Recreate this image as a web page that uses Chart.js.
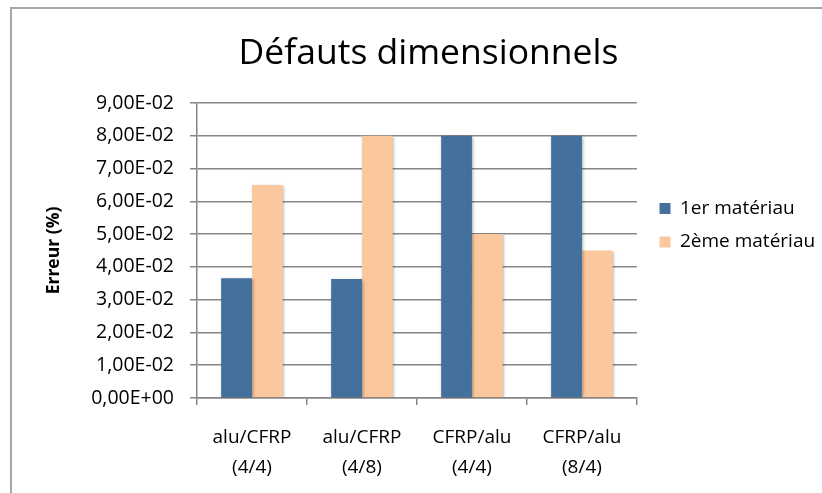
<!DOCTYPE html>
<html>
<head>
<meta charset="utf-8">
<script src="https://cdn.jsdelivr.net/npm/chart.js@4/dist/chart.umd.min.js"></script>
<style>
html,body{margin:0;padding:0;background:#fff;}
#wrap{width:822px;height:493px;position:relative;}
</style>
</head>
<body>
<div id="wrap"><canvas id="c" width="822" height="493"></canvas></div>
<script>
const categories = [["alu/CFRP","(4/4)"],["alu/CFRP","(4/8)"],["CFRP/alu","(4/4)"],["CFRP/alu","(8/4)"]];
const seriesNames = ["1er matériau","2ème matériau"];
const firstMaterial = [0.0365, 0.0363, 0.08, 0.08];
const secondMaterial = [0.065, 0.08, 0.05, 0.045];
const yMin = 0, yMax = 0.09, yStep = 0.01;
const chartTitle = "Défauts dimensionnels";
const yTitle = "Erreur (%)";

const FONT = "'Open Sans', sans-serif";

function sci(v){
  const s = Number(v).toExponential(2);
  let [m,e] = s.split('e');
  let n = parseInt(e,10);
  const sign = n < 0 ? '-' : '+';
  n = Math.abs(n);
  return m.replace('.',',') + 'E' + sign + (n<10?'0':'') + n;
}

const frame = {
  id:'frame',
  beforeDraw(chart){
    const ctx = chart.ctx;
    ctx.save();
    ctx.fillStyle = '#fff';
    ctx.fillRect(0,0,chart.width,chart.height);
    ctx.strokeStyle = '#a6a6a6';
    ctx.lineWidth = 2;
    ctx.beginPath();
    ctx.moveTo(11, chart.height);
    ctx.lineTo(11, 8);
    ctx.lineTo(chart.width, 8);
    ctx.stroke();
    ctx.restore();
    const lg = chart.legend;
    if (lg) {
      const h = lg.bottom - lg.top;
      const w = lg.right - lg.left;
      lg.top = 184.5; lg.bottom = 184.5 + h;
      lg.left = 645; lg.right = 645 + w;
    }
  },
  beforeDatasetsDraw(chart){
    const ctx = chart.ctx;
    ctx.save();
    ctx.shadowColor = 'rgba(0,0,0,0.35)';
    ctx.shadowBlur = 3;
    ctx.shadowOffsetX = 1;
    ctx.shadowOffsetY = 1;
  },
  afterDatasetsDraw(chart){
    chart.ctx.restore();
  }
};

new Chart(document.getElementById('c'), {
  type:'bar',
  data:{
    labels: categories,
    datasets:[
      {label: seriesNames[0], data: firstMaterial, backgroundColor:'#44709e', borderWidth:0},
      {label: seriesNames[1], data: secondMaterial, backgroundColor:'#fbc89e', borderWidth:0}
    ]
  },
  options:{
    responsive:false,
    animation:false,
    layout:{padding:{left:40, right:5, top:0, bottom:0}},
    datasets:{bar:{categoryPercentage:0.56, barPercentage:1}},
    plugins:{
      title:{display:true, text:chartTitle, color:'#000', font:{family:FONT, size:35.5, weight:'normal', lineHeight:1.2}, padding:{top:33, bottom:27.4}},
      legend:{position:'right', align:'start',
        labels:{boxWidth:11, boxHeight:11, padding:14.5, color:'#000', font:{family:FONT, size:19}}},
      tooltip:{enabled:false}
    },
    scales:{
      x:{
        afterFit(s){ s.height = 95; },
        grid:{display:true, drawOnChartArea:false, offset:true, tickLength:7, color:'#868686', lineWidth:1.5},
        border:{display:true, color:'#868686', width:1.5},
        ticks:{color:'#000', font:{family:FONT, size:19, lineHeight:1.55}, padding:18, maxRotation:0}
      },
      y:{
        min:yMin, max:yMax,
        afterFit(s){ s.width = 157; },
        grid:{color:'#868686', lineWidth:1.5, tickLength:7},
        border:{display:true, color:'#868686', width:1.5},
        title:{display:true, text:yTitle, color:'#000', font:{family:FONT, size:17.5, weight:'bold'}},
        ticks:{stepSize:yStep, color:'#000', font:{family:FONT, size:19.5}, padding:16, callback:(v)=>sci(v)}
      }
    }
  },
  plugins:[frame]
});
</script>
</body>
</html>
